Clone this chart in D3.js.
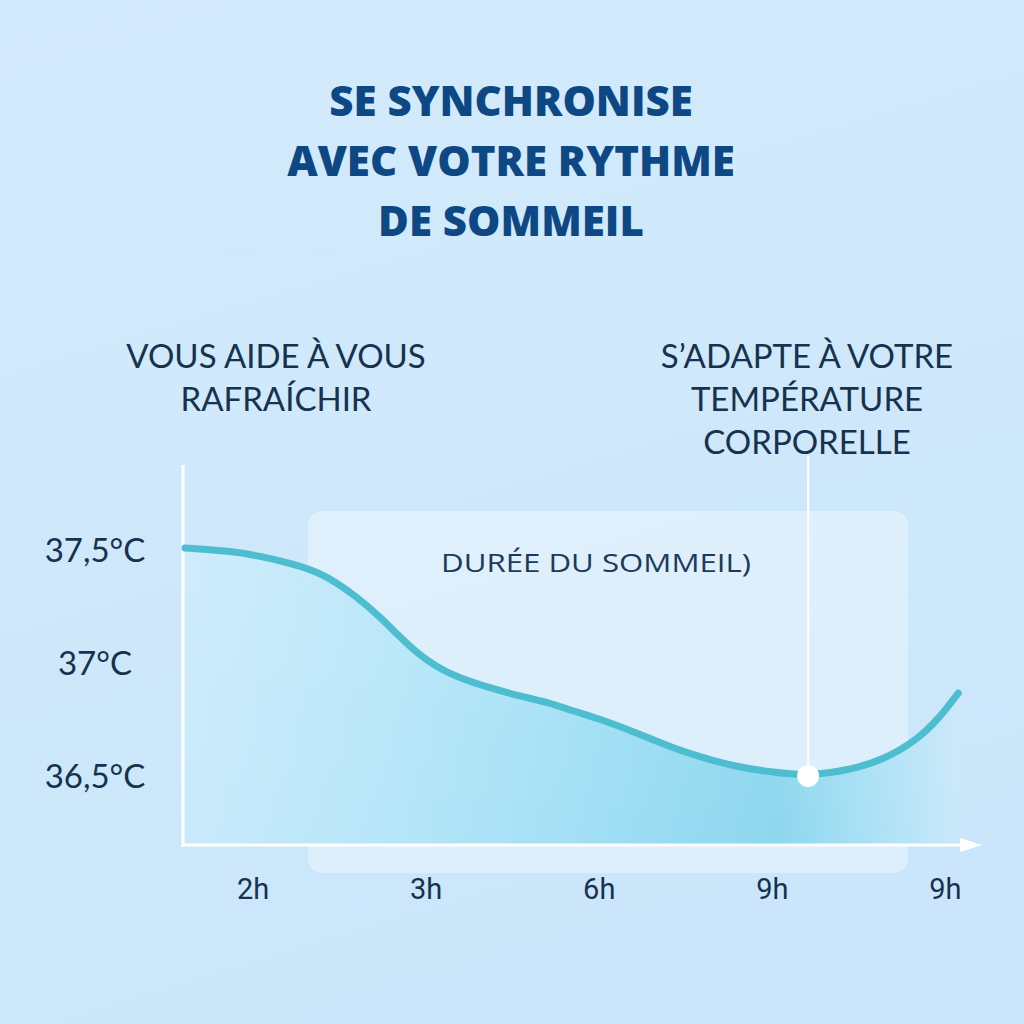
<!DOCTYPE html>
<html>
<head>
<meta charset="utf-8">
<script src="https://cdn.jsdelivr.net/npm/d3@7"></script>
<style>
html,body{margin:0;padding:0;background:#cfe8fb;}
svg{display:block;}
</style>
</head>
<body>
<svg id="chart" width="1024" height="1024"></svg>
<script>
// ---- data ----
const titleLines = ["SE SYNCHRONISE", "AVEC VOTRE RYTHME", "DE SOMMEIL"];
const leftNote = ["VOUS AIDE À VOUS", "RAFRAÍCHIR"];
const rightNote = ["S\u2019ADAPTE À VOTRE", "TEMPÉRATURE", "CORPORELLE"];
const boxLabel = "DURÉE DU SOMMEIL)";
const yTickValues = [37.5, 37, 36.5];
const yTickLabels = ["37,5°C", "37°C", "36,5°C"];
const xTickLabels = ["2h", "3h", "6h", "9h", "9h"];
// curve: time position (in tick-index units) and temperature (°C)
const curveTime = [-0.393, -0.133, 0.040, 0.213, 0.404, 0.601, 0.733, 0.849, 0.947, 1.063, 1.178, 1.369, 1.560, 1.716, 1.831, 2.022, 2.219, 2.409, 2.600, 2.797, 2.987, 3.207, 3.450, 3.640, 3.837, 3.970, 4.074];
const curveTemp = [37.509, 37.496, 37.473, 37.442, 37.398, 37.292, 37.204, 37.115, 37.044, 36.982, 36.938, 36.889, 36.850, 36.823, 36.792, 36.748, 36.690, 36.628, 36.580, 36.540, 36.518, 36.500, 36.527, 36.571, 36.659, 36.761, 36.867];
const markerIndex = 21;

// ---- setup ----
const svg = d3.select("#chart");
const W = 1024, H = 1024;
const x = d3.scaleLinear().domain([-0.405, 4.2]).range([183, 980]);
const y = d3.scaleLinear().domain([36.5, 37.5]).range([776, 550]);
const baseY = 845;

const defs = svg.append("defs");
const bg = defs.append("linearGradient").attr("id", "bg").attr("x1", 0).attr("y1", 0).attr("x2", 0.3).attr("y2", 1);
bg.append("stop").attr("offset", "0%").attr("stop-color", "#d3ebfc");
bg.append("stop").attr("offset", "100%").attr("stop-color", "#cbe6fa");

const ag = defs.append("linearGradient").attr("id", "areaGrad")
  .attr("gradientUnits", "userSpaceOnUse").attr("x1", 183).attr("y1", 0).attr("x2", 975).attr("y2", 0);
[["0%", "#c9eafb"], ["25%", "#b7e6f9"], ["50%", "#a2dff5"], ["75%", "#8dd7ef"], ["88%", "#aee2f6"], ["100%", "#cfe9fb"]]
  .forEach(([o, c]) => ag.append("stop").attr("offset", o).attr("stop-color", c));

const vg = defs.append("linearGradient").attr("id", "areaFade").attr("x1", 0).attr("y1", 0).attr("x2", 0).attr("y2", 1);
vg.append("stop").attr("offset", "0%").attr("stop-color", "#ffffff").attr("stop-opacity", 0.12);
vg.append("stop").attr("offset", "100%").attr("stop-color", "#ffffff").attr("stop-opacity", 0);

svg.append("rect").attr("width", W).attr("height", H).attr("fill", "url(#bg)");

// ---- title ----
svg.append("g").selectAll("text").data(titleLines).join("text")
  .attr("x", 511).attr("y", (d, i) => 116 + i * 60)
  .attr("text-anchor", "middle")
  .attr("font-family", "'Open Sans', sans-serif").attr("font-weight", 800)
  .attr("font-size", 42).attr("fill", "#0e4884")
  .text(d => d);

// ---- annotations ----
const noteFont = "Lato, 'Open Sans', sans-serif";
svg.append("g").selectAll("text").data(leftNote).join("text")
  .attr("x", 276).attr("y", (d, i) => 368 + i * 43)
  .attr("text-anchor", "middle").attr("font-family", noteFont).attr("font-weight", 400)
  .attr("font-size", 33).attr("fill", "#16324f").text(d => d);
svg.append("g").selectAll("text").data(rightNote).join("text")
  .attr("x", 807).attr("y", (d, i) => 368 + i * 43)
  .attr("text-anchor", "middle").attr("font-family", noteFont).attr("font-weight", 400)
  .attr("font-size", 33).attr("fill", "#16324f").text(d => d);

// ---- sleep duration box ----
svg.append("rect").attr("x", 308).attr("y", 511).attr("width", 600).attr("height", 362)
  .attr("rx", 14).attr("fill", "#ffffff").attr("fill-opacity", 0.35);
svg.append("text").attr("x", 596).attr("y", 572).attr("text-anchor", "middle")
  .attr("font-family", "'Open Sans', sans-serif").attr("font-size", 26)
  .attr("fill", "#1b3a5c").attr("textLength", 310).attr("lengthAdjust", "spacingAndGlyphs")
  .text(boxLabel);

// ---- area + line ----
const pts = curveTime.map((t, i) => ({ t, v: curveTemp[i] }));
const area = d3.area().x(d => x(d.t)).y0(baseY).y1(d => y(d.v)).curve(d3.curveBasis);
const line = d3.line().x(d => x(d.t)).y(d => y(d.v)).curve(d3.curveBasis);
svg.append("path").datum(pts).attr("d", area).attr("fill", "url(#areaGrad)");
svg.append("path").datum(pts).attr("d", area).attr("fill", "url(#areaFade)");

// ---- axes ----
svg.append("line").attr("x1", 183).attr("x2", 183).attr("y1", 465).attr("y2", 847)
  .attr("stroke", "#ffffff").attr("stroke-width", 3);
svg.append("line").attr("x1", 182).attr("x2", 968).attr("y1", baseY).attr("y2", baseY)
  .attr("stroke", "#ffffff").attr("stroke-width", 3);
svg.append("path").attr("d", `M${x(4.2) + 2},${baseY} L${x(4.2) - 20},${baseY - 7} L${x(4.2) - 20},${baseY + 7} Z`)
  .attr("fill", "#ffffff");

svg.append("path").datum(pts).attr("d", line).attr("fill", "none")
  .attr("stroke", "#4dbdd0").attr("stroke-width", 7).attr("stroke-linecap", "round");

// guide line + marker
const mk = pts[markerIndex];
svg.append("line").attr("x1", x(mk.t)).attr("x2", x(mk.t)).attr("y1", 456).attr("y2", y(mk.v))
  .attr("stroke", "#ffffff").attr("stroke-width", 2);
svg.append("circle").attr("cx", x(mk.t)).attr("cy", y(mk.v)).attr("r", 11).attr("fill", "#ffffff");

// ---- tick labels ----
svg.append("g").selectAll("text").data(yTickValues).join("text")
  .attr("x", 95).attr("y", d => y(d) + 12)
  .attr("text-anchor", "middle").attr("font-family", noteFont)
  .attr("font-size", 33).attr("fill", "#16324f")
  .text((d, i) => yTickLabels[i]);

const xb = d3.scalePoint().domain(d3.range(xTickLabels.length)).range([x(0), x(4)]);
svg.append("g").selectAll("text").data(xTickLabels).join("text")
  .attr("x", (d, i) => xb(i)).attr("y", 899)
  .attr("text-anchor", "middle").attr("font-family", "Roboto, sans-serif")
  .attr("font-size", 29).attr("fill", "#16324f")
  .text(d => d);
</script>
</body>
</html>
